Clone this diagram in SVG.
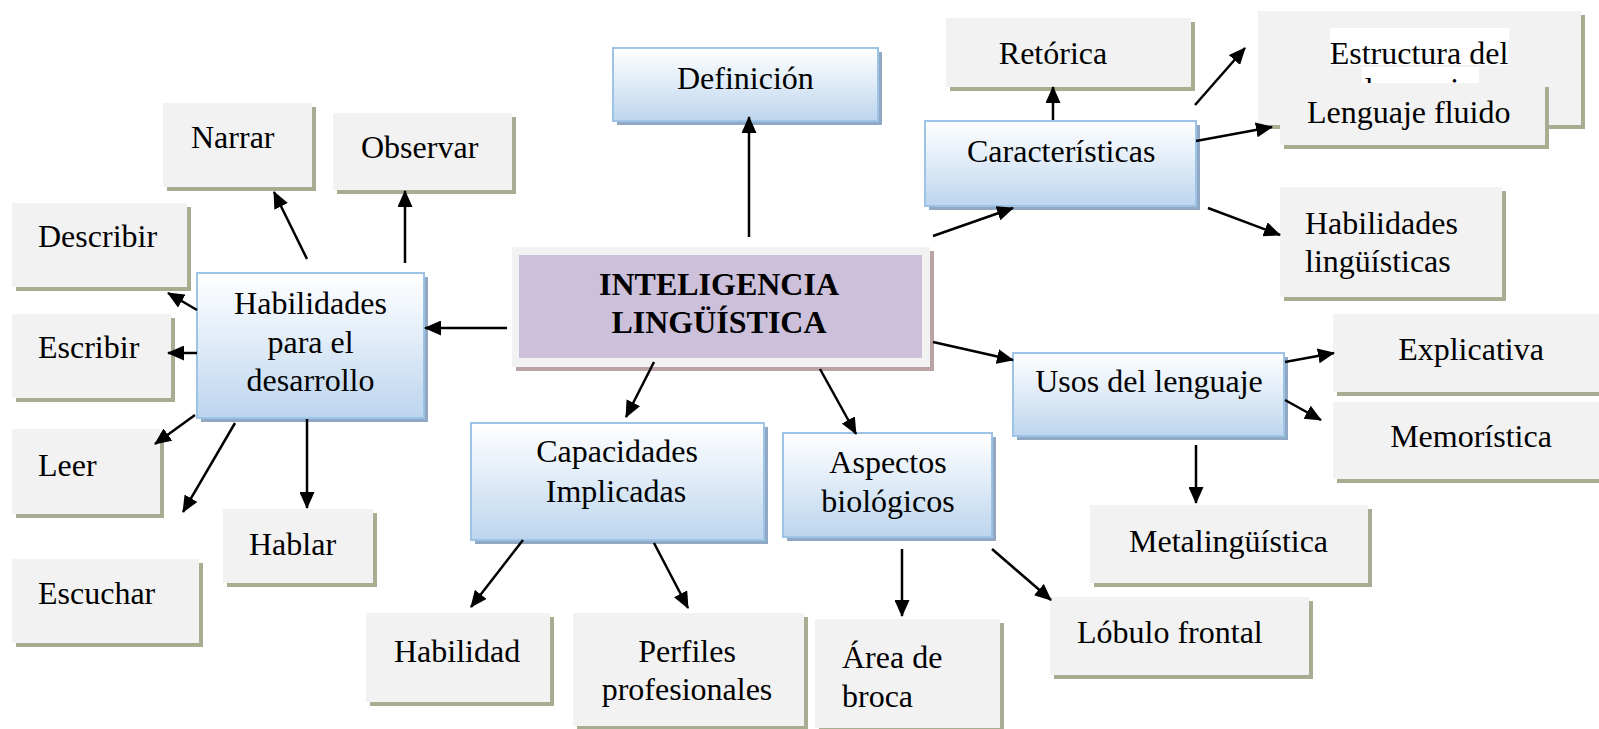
<svg xmlns="http://www.w3.org/2000/svg" width="1599" height="729" viewBox="0 0 1599 729">
<defs>
<linearGradient id="blueGrad" x1="0" y1="0" x2="0" y2="1">
<stop offset="0" stop-color="#ffffff"/>
<stop offset="0.45" stop-color="#e2edf8"/>
<stop offset="1" stop-color="#bcd5ee"/>
</linearGradient>
<marker id="arrow" markerUnits="userSpaceOnUse" markerWidth="17" markerHeight="15" viewBox="0 0 17 15" refX="16" refY="7.5" orient="auto">
<path d="M0,0 L17,7.5 L0,15 z" fill="#000"/>
</marker>
<style>
text{font-family:"Liberation Serif","Times New Roman",serif;font-size:32px;fill:#000}
.b{font-weight:bold}
.m{text-anchor:middle}
.gray{fill:#f2f2f2}
.gsh{fill:#a6ad90}
.blue{fill:url(#blueGrad);stroke:#9dc3e6;stroke-width:2}
.bsh{fill:#91a8c4}
.conn line{stroke:#000;stroke-width:2.5;marker-end:url(#arrow)}
</style>
</defs>
<rect width="1599" height="729" fill="#ffffff"/>

<g id="node-central">
<rect x="516" y="251" width="418" height="120" fill="#bba3a5"/>
<rect x="512" y="247" width="418" height="120" fill="#f2f2f2"/>
<rect x="519" y="255" width="403" height="103" fill="#ccc0da"/>
<text class="b m" x="719" y="295">INTELIGENCIA</text>
<text class="b m" x="719" y="333">LINGÜÍSTICA</text>
</g>

<g id="node-definicion">
<rect class="bsh" x="617" y="52" width="265" height="73"/>
<rect class="blue" x="613" y="48" width="265" height="73"/>
<text x="677" y="89">Definición</text>
</g>

<g id="node-caracteristicas">
<rect class="bsh" x="929" y="125" width="271" height="85"/>
<rect class="blue" x="925" y="121" width="271" height="85"/>
<text x="967" y="162">Características</text>
</g>

<g id="node-habilidades-desarrollo">
<rect class="bsh" x="201" y="277" width="227" height="145"/>
<rect class="blue" x="197" y="273" width="227" height="145"/>
<text class="m" x="310.5" y="314">Habilidades</text>
<text class="m" x="310.5" y="352.5">para el</text>
<text class="m" x="310.5" y="391">desarrollo</text>
</g>

<g id="node-capacidades">
<rect class="bsh" x="475" y="427" width="293" height="117"/>
<rect class="blue" x="471" y="423" width="293" height="117"/>
<text class="m" x="617" y="462">Capacidades</text>
<text class="m" x="616" y="502">Implicadas</text>
</g>

<g id="node-aspectos">
<rect class="bsh" x="787" y="437" width="209" height="104"/>
<rect class="blue" x="783" y="433" width="209" height="104"/>
<text class="m" x="888" y="473">Aspectos</text>
<text class="m" x="888" y="512">biológicos</text>
</g>

<g id="node-usos">
<rect class="bsh" x="1017" y="357" width="271" height="83"/>
<rect class="blue" x="1013" y="353" width="271" height="83"/>
<text class="m" x="1149" y="392">Usos del lenguaje</text>
</g>

<g id="node-retorica">
<rect class="gsh" x="950" y="22" width="245" height="69"/>
<rect class="gray" x="946" y="18" width="245" height="69"/>
<text class="m" x="1053" y="64">Retórica</text>
</g>

<g id="node-estructura">
<rect class="gsh" x="1262" y="15" width="323" height="114"/>
<rect class="gray" x="1258" y="11" width="323" height="114"/>
<rect x="1330" y="28" width="179" height="37" fill="#ffffff"/>
<rect x="1362" y="67" width="117" height="34" fill="#ffffff"/>
<text class="m" x="1419" y="64">Estructura del</text>
<text class="m" x="1419" y="100">lenguaje</text>
</g>

<g id="node-lenguaje-fluido">
<rect class="gsh" x="1284" y="87" width="265" height="62"/>
<rect class="gray" x="1280" y="83" width="265" height="62"/>
<text x="1307" y="123">Lenguaje fluido</text>
</g>

<g id="node-habilidades-linguisticas">
<rect class="gsh" x="1284" y="191" width="222" height="110"/>
<rect class="gray" x="1280" y="187" width="222" height="110"/>
<text x="1305" y="234">Habilidades</text>
<text x="1305" y="272">lingüísticas</text>
</g>

<g id="node-explicativa">
<rect class="gsh" x="1337" y="318" width="270" height="78"/>
<rect class="gray" x="1333" y="314" width="270" height="78"/>
<text class="m" x="1471" y="360">Explicativa</text>
</g>

<g id="node-memoristica">
<rect class="gsh" x="1337" y="406" width="270" height="77"/>
<rect class="gray" x="1333" y="402" width="270" height="77"/>
<text class="m" x="1471" y="447">Memorística</text>
</g>

<g id="node-metalinguistica">
<rect class="gsh" x="1094" y="509" width="278" height="78"/>
<rect class="gray" x="1090" y="505" width="278" height="78"/>
<text x="1129" y="552">Metalingüística</text>
</g>

<g id="node-lobulo">
<rect class="gsh" x="1054" y="601" width="259" height="78"/>
<rect class="gray" x="1050" y="597" width="259" height="78"/>
<text x="1077" y="643">Lóbulo frontal</text>
</g>

<g id="node-area-broca">
<rect class="gsh" x="819" y="623" width="185" height="109"/>
<rect class="gray" x="815" y="619" width="185" height="109"/>
<text x="842" y="668">Área de</text>
<text x="842" y="707">broca</text>
</g>

<g id="node-perfiles">
<rect class="gsh" x="577" y="617" width="231" height="113"/>
<rect class="gray" x="573" y="613" width="231" height="113"/>
<text class="m" x="687" y="662">Perfiles</text>
<text class="m" x="687" y="700">profesionales</text>
</g>

<g id="node-habilidad">
<rect class="gsh" x="370" y="617" width="184" height="89"/>
<rect class="gray" x="366" y="613" width="184" height="89"/>
<text x="394" y="662">Habilidad</text>
</g>

<g id="node-narrar">
<rect class="gsh" x="167" y="107" width="149" height="84"/>
<rect class="gray" x="163" y="103" width="149" height="84"/>
<text x="191" y="148">Narrar</text>
</g>

<g id="node-observar">
<rect class="gsh" x="337" y="117" width="179" height="77"/>
<rect class="gray" x="333" y="113" width="179" height="77"/>
<text x="361" y="158">Observar</text>
</g>

<g id="node-describir">
<rect class="gsh" x="16" y="207" width="175" height="84"/>
<rect class="gray" x="12" y="203" width="175" height="84"/>
<text x="38" y="247">Describir</text>
</g>

<g id="node-escribir">
<rect class="gsh" x="16" y="318" width="159" height="84"/>
<rect class="gray" x="12" y="314" width="159" height="84"/>
<text x="38" y="358">Escribir</text>
</g>

<g id="node-leer">
<rect class="gsh" x="16" y="433" width="148" height="85"/>
<rect class="gray" x="12" y="429" width="148" height="85"/>
<text x="38" y="476">Leer</text>
</g>

<g id="node-escuchar">
<rect class="gsh" x="16" y="563" width="187" height="84"/>
<rect class="gray" x="12" y="559" width="187" height="84"/>
<text x="38" y="604">Escuchar</text>
</g>

<g id="node-hablar">
<rect class="gsh" x="227" y="513" width="150" height="74"/>
<rect class="gray" x="223" y="509" width="150" height="74"/>
<text x="249" y="555">Hablar</text>
</g>

<g id="connectors" class="conn">
<line x1="749" y1="237" x2="749" y2="117"/>
<line x1="507" y1="328" x2="425" y2="328"/>
<line x1="933" y1="236" x2="1013" y2="208"/>
<line x1="933" y1="342" x2="1013" y2="360"/>
<line x1="654" y1="362" x2="626" y2="417"/>
<line x1="820" y1="369" x2="856" y2="434"/>
<line x1="1053" y1="120" x2="1053" y2="87"/>
<line x1="1195" y1="105" x2="1245" y2="48"/>
<line x1="1196" y1="141" x2="1272" y2="127"/>
<line x1="1208" y1="208" x2="1280" y2="235"/>
<line x1="1285" y1="362" x2="1334" y2="353"/>
<line x1="1285" y1="400" x2="1321" y2="420"/>
<line x1="1196" y1="445" x2="1196" y2="503"/>
<line x1="902" y1="549" x2="902" y2="616"/>
<line x1="992" y1="549" x2="1051" y2="600"/>
<line x1="523" y1="540" x2="471" y2="607"/>
<line x1="654" y1="543" x2="688" y2="608"/>
<line x1="307" y1="259" x2="274" y2="192"/>
<line x1="405" y1="263" x2="405" y2="191"/>
<line x1="197" y1="310" x2="168" y2="293"/>
<line x1="197" y1="353" x2="168" y2="353"/>
<line x1="195" y1="415" x2="155" y2="444"/>
<line x1="235" y1="423" x2="183" y2="512"/>
<line x1="307" y1="419" x2="307" y2="508"/>
</g>
</svg>
